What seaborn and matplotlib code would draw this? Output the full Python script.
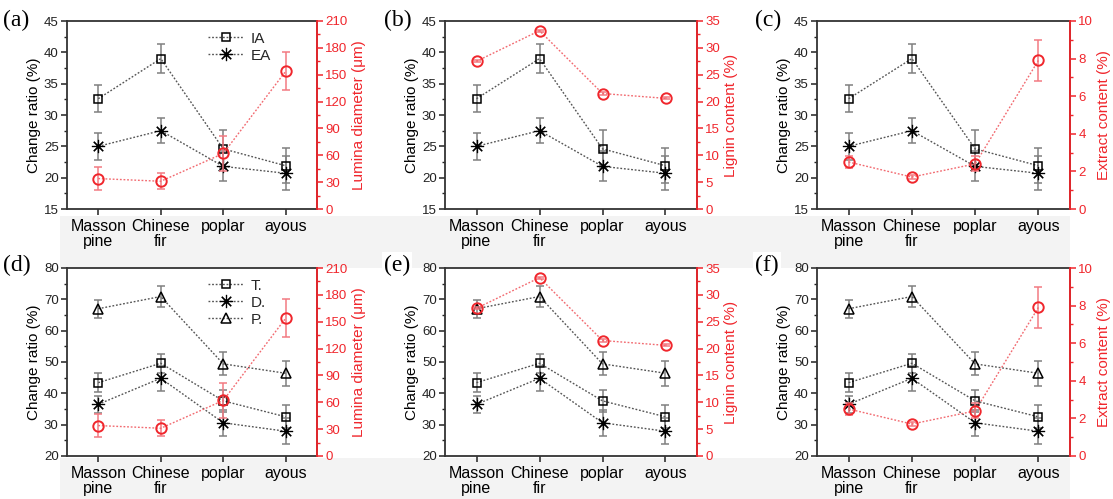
import numpy as np
import pandas as pd
import matplotlib
matplotlib.use("Agg")
import matplotlib.pyplot as plt
import seaborn as sns
from matplotlib.ticker import MultipleLocator
from matplotlib.patches import Rectangle
from matplotlib.lines import Line2D

# ---------------- data ----------------
woods = ["Masson\npine", "Chinese\nfir", "poplar", "ayous"]

ia = [32.6, 39.0, 24.6, 21.9]
ia_err = [2.2, 2.3, 3.0, 2.8]
ea = [25.0, 27.5, 21.8, 20.7]
ea_err = [2.2, 1.95, 2.4, 2.7]

t_vals = [43.4, 49.6, 37.6, 32.5]
t_err = [2.95, 3.1, 3.5, 3.7]
d_vals = [36.5, 44.8, 30.6, 27.9]
d_err = [2.8, 4.0, 4.1, 4.1]
p_vals = [67.0, 70.9, 49.4, 46.4]
p_err = [2.8, 3.4, 3.7, 3.9]

lumina = [34, 31, 62, 154]
lumina_err = [13, 9, 19, 21]
lignin = [27.5, 33.2, 21.5, 20.6]
lignin_err = [0.2, 0.2, 0.2, 0.2]
extract = [2.5, 1.7, 2.4, 7.9]
extract_err = [0.3, 0.1, 0.4, 1.1]

panel_letters = ["(a)", "(b)", "(c)", "(d)", "(e)", "(f)"]
right_labels = ["Lumina diameter (\u03bcm)", "Lignin content (%)", "Extract content (%)"]
left_label = "Change ratio (%)"

# ---------------- style ----------------
sns.set_theme(style="ticks")
plt.rcParams["font.family"] = ["Liberation Sans", "DejaVu Sans"]
plt.rcParams["axes.linewidth"] = 1.3

fig = plt.figure(figsize=(11.13, 4.99), dpi=100)
W, H = 1113, 499

# light gray band behind the category labels (as in the reference)
for y0, y1 in [(216, 268), (458, 499)]:
    fig.patches.append(Rectangle((60 / W, 1 - y1 / H), (1070 - 60) / W, (y1 - y0) / H,
                                 transform=fig.transFigure, facecolor="#f3f3f3",
                                 edgecolor="none", zorder=-10))

col_x = [(67, 317), (445, 697), (817, 1070)]
row_y = [(21, 209), (268, 456)]
label_x = [3, 384, 755]
label_y = [20, 265]

right_sets = [
    (lumina, lumina_err, (0, 210), 30, 15),
    (lignin, lignin_err, (0, 35), 5, 2.5),
    (extract, extract_err, (0, 10), 2, 1),
]

black_line = "#555555"
err_gray = "#808080"
red = "#f0262c"
dots = (0, (1.3, 1.3))

star = (8, 2, 0)
star_ms = 9.5
star_mew = 0.85


def draw_series(ax, vals, errs, marker, ms, mew, label):
    df = pd.DataFrame({"wood": woods, "value": vals})
    ax.errorbar(woods, vals, yerr=errs, fmt="none", ecolor=err_gray,
                elinewidth=1.1, capsize=3.2, capthick=1.1, zorder=2)
    sns.lineplot(data=df, x="wood", y="value", ax=ax, sort=False,
                 color=black_line, linestyle=dots, linewidth=1.0,
                 marker=marker, markersize=ms, markerfacecolor="none",
                 markeredgecolor="black", markeredgewidth=mew, label=label,
                 legend=False, zorder=3)


for r in range(2):
    for c in range(3):
        x0, x1 = col_x[c]
        ya, yb = row_y[r]
        ax = fig.add_axes([x0 / W, 1 - yb / H, (x1 - x0) / W, (yb - ya) / H])
        ax.set_facecolor("white")
        if r == 0:
            draw_series(ax, ia, ia_err, "s", 6, 1.1, "IA")
            draw_series(ax, ea, ea_err, star, star_ms, star_mew, "EA")
            ax.set_ylim(15, 45)
            ax.yaxis.set_major_locator(MultipleLocator(5))
            ax.yaxis.set_minor_locator(MultipleLocator(2.5))
        else:
            draw_series(ax, t_vals, t_err, "s", 6, 1.1, "T.")
            draw_series(ax, d_vals, d_err, star, star_ms, star_mew, "D.")
            draw_series(ax, p_vals, p_err, "^", 7.5, 1.1, "P.")
            ax.set_ylim(20, 80)
            ax.yaxis.set_major_locator(MultipleLocator(10))
            ax.yaxis.set_minor_locator(MultipleLocator(5))
        ax.set_xlim(-0.5, 3.5)
        ax.set_xlabel("")
        ax.set_ylabel(left_label, fontsize=11, color="black", labelpad=2)
        ax.tick_params(axis="y", which="major", direction="out", length=4.5,
                       width=1.1, labelsize=9.5, pad=1.5, colors="#222222")
        ax.tick_params(axis="y", which="minor", direction="out", length=2.5, width=1.0,
                       colors="#222222")
        ax.tick_params(axis="x", which="major", direction="out", length=4,
                       width=1.1, labelsize=11.5, pad=3, colors="#222222")
        for lab in ax.get_xticklabels():
            lab.set_color("black")
            lab.set_linespacing(1.05)
        for s in ["left", "bottom", "top"]:
            ax.spines[s].set_color("#333333")

        vals, errs, ylim, maj, mn = right_sets[c]
        ax2 = ax.twinx()
        df2 = pd.DataFrame({"wood": woods, "value": vals})
        ax2.errorbar(woods, vals, yerr=errs, fmt="none", ecolor="#f27a82",
                     elinewidth=1.1, capsize=3.2, capthick=1.1, zorder=2)
        sns.lineplot(data=df2, x="wood", y="value", ax=ax2, sort=False,
                     color="#f26a70", linestyle=dots, linewidth=1.0,
                     marker="o", markersize=7.5, markerfacecolor="none",
                     markeredgecolor=red, markeredgewidth=1.4, legend=False, zorder=3)
        ax2.set_ylim(*ylim)
        ax2.yaxis.set_major_locator(MultipleLocator(maj))
        ax2.yaxis.set_minor_locator(MultipleLocator(mn))
        ax2.set_xlim(-0.5, 3.5)
        ax2.set_xlabel("")
        ax2.set_ylabel(right_labels[c], fontsize=11, color=red, labelpad=3)
        ax2.tick_params(axis="y", which="major", direction="out", length=4.5,
                        width=1.1, labelsize=9.5, pad=1.5, colors=red)
        ax2.tick_params(axis="y", which="minor", direction="out", length=2.5,
                        width=1.0, colors=red)
        ax2.spines["right"].set_color(red)
        for s in ["left", "bottom", "top"]:
            ax2.spines[s].set_visible(False)

        if c == 0:
            sq = Line2D([], [], color=black_line, linestyle=dots, lw=1.0,
                        marker="s", ms=6, mfc="none", mec="black", mew=1.1)
            st = Line2D([], [], color=black_line, linestyle=dots, lw=1.0,
                        marker=star, ms=star_ms, mfc="none", mec="black", mew=star_mew)
            tr = Line2D([], [], color=black_line, linestyle=dots, lw=1.0,
                        marker="^", ms=7.5, mfc="none", mec="black", mew=1.1)
            if r == 0:
                handles, labels = [sq, st], ["IA", "EA"]
            else:
                handles, labels = [sq, st, tr], ["T.", "D.", "P."]
            ax2.legend(handles, labels, loc="upper left", bbox_to_anchor=(0.52, 1.0),
                       frameon=False, fontsize=11, handlelength=2.4,
                       handletextpad=0.4, labelspacing=0.2, borderaxespad=0.3)

        fig.text(label_x[c] / W, 1 - label_y[r] / H, panel_letters[r * 3 + c],
                 family=["Liberation Serif", "DejaVu Serif"], fontsize=17,
                 ha="left", va="center", color="black",
                 bbox=dict(facecolor="white", edgecolor="none", pad=1.5))

fig.savefig("out.png", dpi=100, facecolor="white")
